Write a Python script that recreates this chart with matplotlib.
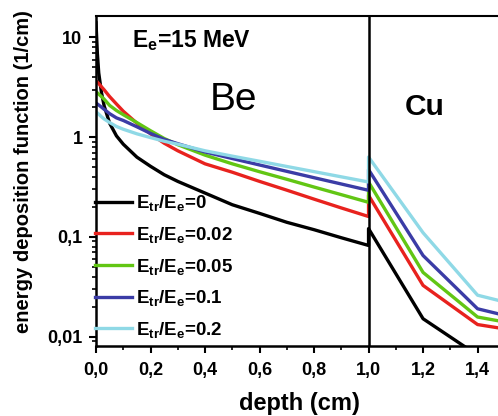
import numpy as np
import matplotlib.pyplot as plt
from matplotlib.ticker import FixedLocator, FuncFormatter, LogLocator, MultipleLocator, NullFormatter

# フォント設定（太字・Arial相当）
plt.rcParams['font.family'] = ['Liberation Sans', 'DejaVu Sans']
plt.rcParams['font.weight'] = 'bold'
plt.rcParams['axes.labelweight'] = 'bold'
plt.rcParams['mathtext.fontset'] = 'custom'
plt.rcParams['mathtext.rm'] = 'Liberation Sans:bold'
plt.rcParams['mathtext.it'] = 'Liberation Sans:bold'
plt.rcParams['mathtext.bf'] = 'Liberation Sans:bold'
plt.rcParams['mathtext.default'] = 'rm'

# 深さ (cm): Be 層と Cu 層
depth_be = [0.0, 0.005, 0.01, 0.02, 0.03, 0.05, 0.075, 0.1, 0.15, 0.2, 0.25, 0.3,
            0.4, 0.5, 0.6, 0.7, 0.8, 0.9, 1.0]
depth_cu = [1.0, 1.2, 1.4, 1.6]

# エネルギー付与関数 (1/cm)  E_tr/E_e = 0, 0.02, 0.05, 0.1, 0.2
ratios = ['0', '0.02', '0.05', '0.1', '0.2']
be_0 = [14.0, 6.9, 4.4, 2.8, 2.05, 1.38, 1.03, 0.85, 0.63, 0.51, 0.42, 0.36,
        0.275, 0.21, 0.172, 0.14, 0.118, 0.098, 0.082]
be_002 = [3.65, 3.55, 3.45, 3.2, 2.98, 2.55, 2.15, 1.82, 1.38, 1.08, 0.87, 0.73,
          0.54, 0.445, 0.36, 0.294, 0.239, 0.195, 0.16]
be_005 = [2.85, 2.78, 2.7, 2.55, 2.4, 2.08, 1.85, 1.68, 1.40, 1.16, 0.97, 0.84,
          0.66, 0.54, 0.45, 0.378, 0.316, 0.265, 0.222]
be_01 = [2.2, 2.15, 2.1, 2.0, 1.9, 1.72, 1.56, 1.47, 1.27, 1.09, 0.95, 0.86,
         0.71, 0.61, 0.526, 0.454, 0.392, 0.339, 0.293]
be_02 = [1.79, 1.75, 1.7, 1.6, 1.52, 1.40, 1.28, 1.2, 1.08, 0.99, 0.91, 0.85,
         0.73, 0.645, 0.573, 0.508, 0.451, 0.4, 0.355]
cu_0 = [0.121, 0.0151, 0.0065, 0.003]
cu_002 = [0.261, 0.0326, 0.0132, 0.0108]
cu_005 = [0.355, 0.044, 0.0157, 0.0125]
cu_01 = [0.473, 0.065, 0.019, 0.014]
cu_02 = [0.632, 0.11, 0.026, 0.019]

be_curves = [be_0, be_002, be_005, be_01, be_02]
cu_curves = [cu_0, cu_002, cu_005, cu_01, cu_02]
colors = ['black', '#e8221e', '#62c614', '#3b3ca6', '#8fd9e6']

fig = plt.figure(figsize=(4.98, 4.16), dpi=100)
ax = fig.add_axes([0.1928, 0.1690, 0.8072, 0.7925])

depth = np.concatenate([depth_be, depth_cu])
for r, be, cu, c in zip(ratios, be_curves, cu_curves, colors):
    ax.plot(depth, np.concatenate([be, cu]), color=c, lw=2.4,
            label=r'$E_{tr}/E_{e}$=' + r)

# Be/Cu 境界
ax.axvline(1.0, color='black', lw=1.8, zorder=5)

ax.set_yscale('log')
ax.set_xlim(0, 1.475)
ax.set_ylim(0.0081, 16.4)

ax.xaxis.set_major_locator(MultipleLocator(0.2))
ax.xaxis.set_minor_locator(MultipleLocator(0.1))
ax.xaxis.set_major_formatter(FuncFormatter(lambda v, p: f'{v:.1f}'.replace('.', ',')))
ax.yaxis.set_major_locator(FixedLocator([0.01, 0.1, 1, 10]))
ax.yaxis.set_major_formatter(FuncFormatter(
    lambda v, p: {0.01: '0,01', 0.1: '0,1', 1: '1', 10: '10'}.get(round(v, 2), '')))
ax.yaxis.set_minor_locator(LogLocator(base=10, subs=np.arange(2, 10)))
ax.yaxis.set_minor_formatter(NullFormatter())

ax.tick_params(which='major', direction='out', length=5, width=1.5, labelsize=13)
ax.tick_params(axis='x', which='major', pad=6.5)
ax.tick_params(axis='y', which='major', pad=4.8)
ax.tick_params(which='minor', direction='out', length=3, width=1.2)
ax.spines['right'].set_visible(False)
for s in ['left', 'bottom']:
    ax.spines[s].set_linewidth(1.8)
ax.spines['top'].set_linewidth(1.5)

ax.set_xlabel('depth (cm)', fontsize=17)
ax.xaxis.set_label_coords(0.507, -0.140)
ax.set_ylabel('energy deposition function (1/cm)', fontsize=14.5)
ax.yaxis.set_label_coords(-0.158, 0.528)

ax.text(0.0896, 0.907, r'$E_{e}$=15 MeV', transform=ax.transAxes,
        fontsize=16.5, va='baseline', ha='left')
ax.text(0.2836, 0.715, 'Be', transform=ax.transAxes, fontsize=28,
        fontweight='normal', va='baseline', ha='left')
ax.text(0.769, 0.700, 'Cu', transform=ax.transAxes, fontsize=21.5,
        va='baseline', ha='left')

ax.legend(loc='upper left', bbox_to_anchor=(-0.003, 0.462), frameon=False,
          fontsize=13.5, handlelength=2.0, handletextpad=0.2, labelspacing=0.62,
          borderpad=0, borderaxespad=0)

plt.savefig('out.png', dpi=100)
